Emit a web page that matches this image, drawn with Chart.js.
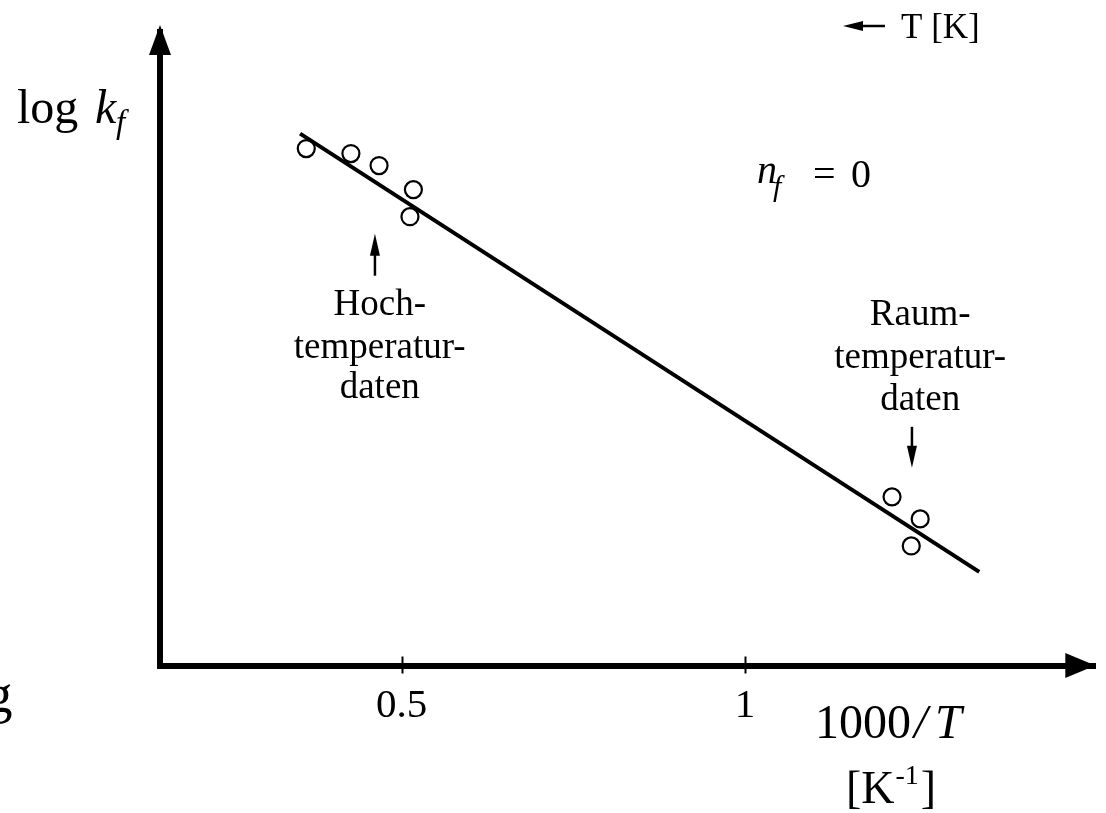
<!DOCTYPE html>
<html>
<head>
<meta charset="utf-8">
<script src="https://cdn.jsdelivr.net/npm/chart.js@4"></script>
<style>
  html, body { margin: 0; padding: 0; background: #fff; }
  #wrap { width: 1106px; height: 813px; }
</style>
</head>
<body>
<div id="wrap"><canvas id="chart" width="1106" height="813"></canvas></div>
<script>
// x = 1000/T [1/K], y = log kf (arbitrary units, axis has no values)
var hochX = [0.361, 0.426, 0.467, 0.517, 0.512];
var hochY = [5.165, 5.115, 4.995, 4.755, 4.485];
var raumX = [1.214, 1.255, 1.242];
var raumY = [1.685, 1.465, 1.195];
var fitX = [0.352, 1.341];
var fitY = [5.315, 0.935];
var tickValues = [0.5, 1];
var tickLabels = ['0.5', '1'];

var SERIF = '"Liberation Serif", "Times New Roman", serif';

function toPoints(xs, ys) {
  return xs.map(function (x, i) { return { x: x, y: ys[i] }; });
}

// axes arrows, tick marks and all the text labels
var decorPlugin = {
  id: 'decor',
  afterDraw: function (chart) {
    var ctx = chart.ctx;
    var a = chart.chartArea;
    var xs = chart.scales.x, ys = chart.scales.y;
    ctx.save();
    ctx.fillStyle = '#000';
    ctx.strokeStyle = '#000';

    // arrow heads
    ctx.beginPath();
    ctx.moveTo(a.left, a.top - 7);
    ctx.lineTo(a.left - 11, a.top + 23);
    ctx.lineTo(a.left + 11, a.top + 23);
    ctx.closePath();
    ctx.fill();
    ctx.beginPath();
    ctx.moveTo(a.right, a.bottom);
    ctx.lineTo(a.right - 30, a.bottom - 12.5);
    ctx.lineTo(a.right - 30, a.bottom + 12.5);
    ctx.closePath();
    ctx.fill();

    // tick marks crossing the x axis
    ctx.lineWidth = 2;
    tickValues.forEach(function (v) {
      var px = Math.round(xs.getPixelForValue(v)) + 0.5;
      ctx.beginPath();
      ctx.moveTo(px, a.bottom - 9);
      ctx.lineTo(px, a.bottom + 8);
      ctx.stroke();
    });

    // small arrows to the data groups
    function arrow(xv, y0, y1) {
      var px = xs.getPixelForValue(xv);
      var p0 = ys.getPixelForValue(y0), p1 = ys.getPixelForValue(y1);
      var dir = p1 < p0 ? 1 : -1;
      ctx.lineWidth = 2.5;
      ctx.beginPath();
      ctx.moveTo(px, p0);
      ctx.lineTo(px, p1 + dir * 18);
      ctx.stroke();
      ctx.beginPath();
      ctx.moveTo(px, p1);
      ctx.lineTo(px - 5, p1 + dir * 22);
      ctx.lineTo(px + 5, p1 + dir * 22);
      ctx.closePath();
      ctx.fill();
    }
    arrow(0.461, 3.895, 4.315);
    arrow(1.243, 2.385, 1.975);

    // group labels
    ctx.font = '37px ' + SERIF;
    ctx.textAlign = 'center';
    ctx.textBaseline = 'alphabetic';
    var hx = xs.getPixelForValue(0.468);
    ctx.fillText('Hoch-', hx, 315);
    ctx.fillText('temperatur-', hx, 358);
    ctx.fillText('daten', hx, 398);
    var rx = xs.getPixelForValue(1.255);
    ctx.fillText('Raum-', rx, 325);
    ctx.fillText('temperatur-', rx, 368);
    ctx.fillText('daten', rx, 410);

    ctx.textAlign = 'left';
    // y axis title: log k_f
    ctx.font = '48px ' + SERIF;
    ctx.fillText('log', 17, 123);
    ctx.font = 'italic 48px ' + SERIF;
    ctx.fillText('k', 95, 123);
    ctx.font = 'italic 33px ' + SERIF;
    ctx.fillText('f', 116, 133);

    // n_f = 0
    ctx.font = 'italic 40px ' + SERIF;
    ctx.fillText('n', 757, 183);
    ctx.font = 'italic 30px ' + SERIF;
    ctx.fillText('f', 773, 196);
    ctx.font = '40px ' + SERIF;
    ctx.fillText('=', 813, 187);
    ctx.fillText('0', 851, 187);

    // x axis title
    ctx.font = '48px ' + SERIF;
    ctx.fillText('1000', 815, 738);
    ctx.font = 'italic 48px ' + SERIF;
    ctx.fillText('/', 914, 738);
    ctx.fillText('T', 935, 738);
    ctx.font = '46px ' + SERIF;
    ctx.fillText('[K', 846, 803);
    var kw = ctx.measureText('[K').width;
    ctx.font = '28px ' + SERIF;
    ctx.fillText('-1', 846 + kw + 1, 784);
    var sw = ctx.measureText('-1').width;
    ctx.font = '46px ' + SERIF;
    ctx.fillText(']', 846 + kw + sw + 3, 803);

    // T [K] arrow at the top
    ctx.lineWidth = 2.5;
    ctx.beginPath();
    ctx.moveTo(885, 26);
    ctx.lineTo(858, 26);
    ctx.stroke();
    ctx.beginPath();
    ctx.moveTo(843, 26);
    ctx.lineTo(863, 21);
    ctx.lineTo(863, 31);
    ctx.closePath();
    ctx.fill();
    ctx.font = '35px ' + SERIF;
    ctx.fillText('T [K]', 901, 38);

    // cut-off glyph at the left edge
    ctx.font = '55px ' + SERIF;
    ctx.fillText('g', -15, 712);
    ctx.restore();
  }
};

var ctx = document.getElementById('chart').getContext('2d');
new Chart(ctx, {
  type: 'scatter',
  data: {
    datasets: [
      {
        type: 'line',
        data: toPoints(fitX, fitY),
        borderColor: '#000',
        borderWidth: 4,
        pointRadius: 0,
        fill: false
      },
      {
        data: toPoints(hochX, hochY),
        pointRadius: 8.5,
        pointBorderWidth: 2.2,
        borderColor: '#000',
        backgroundColor: 'rgba(255,255,255,0)'
      },
      {
        data: toPoints(raumX, raumY),
        pointRadius: 8.5,
        pointBorderWidth: 2.2,
        borderColor: '#000',
        backgroundColor: 'rgba(255,255,255,0)'
      }
    ]
  },
  options: {
    responsive: false,
    animation: false,
    layout: { padding: { top: 32, right: 6, left: 0, bottom: 0 } },
    plugins: { legend: { display: false }, tooltip: { enabled: false } },
    scales: {
      x: {
        type: 'linear',
        min: 0.148,
        max: 1.51,
        border: { display: true, color: '#000', width: 6 },
        grid: { display: false },
        afterBuildTicks: function (scale) {
          scale.ticks = tickValues.map(function (v) { return { value: v }; });
        },
        afterFit: function (scale) { scale.height = 147.5; },
        ticks: {
          color: '#000',
          padding: 8,
          maxRotation: 0,
          autoSkip: false,
          font: { family: SERIF, size: 41 },
          callback: function (v) {
            var i = tickValues.indexOf(v);
            return i >= 0 ? tickLabels[i] : '';
          }
        }
      },
      y: {
        type: 'linear',
        min: 0,
        max: 6.33,
        border: { display: true, color: '#000', width: 6 },
        grid: { display: false },
        ticks: { display: false },
        afterFit: function (scale) { scale.width = 160; }
      }
    }
  },
  plugins: [decorPlugin]
});
</script>
</body>
</html>
